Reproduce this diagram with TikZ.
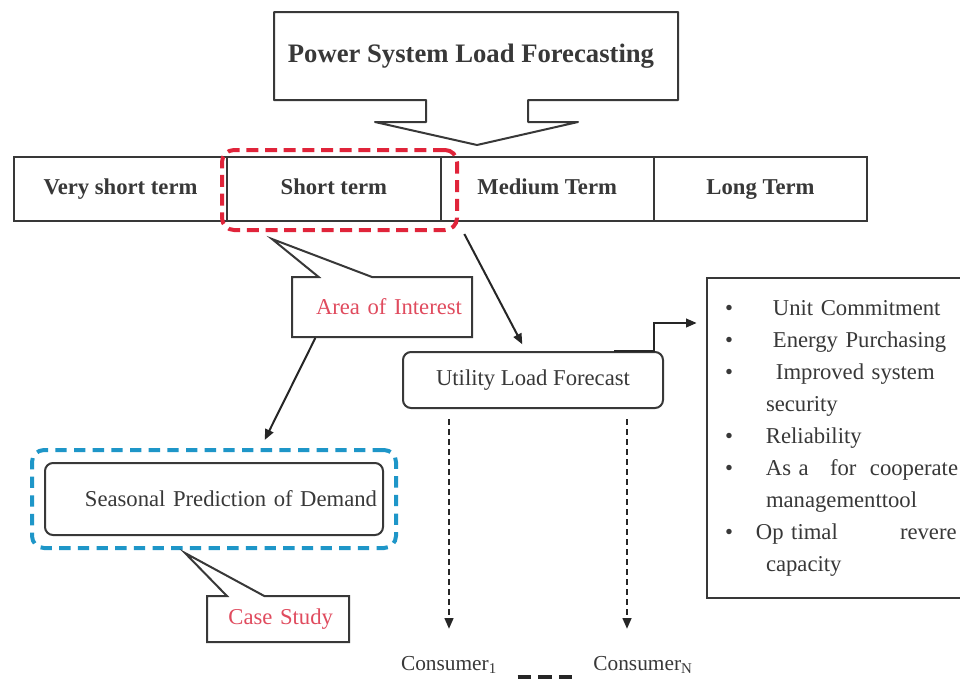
\documentclass[tikz,border=0pt]{standalone}
\usepackage{fontspec}
\setmainfont{Liberation Serif}
\usepackage{tikz}
\usetikzlibrary{positioning,arrows.meta,fit,shapes.callouts}
\definecolor{cred}{HTML}{E0243A}
\definecolor{cblue}{HTML}{1E96C8}
\definecolor{cpink}{HTML}{E04B5E}
\definecolor{cline}{HTML}{383838}
\newcommand{\itm}[2]{\makebox[#1][l]{\textbullet}#2}

\begin{document}
\begin{tikzpicture}[x=0.75pt,y=-0.75pt,
    font=\fontsize{17}{24}\selectfont,
    term/.style={draw=cline,line width=1.5pt,minimum width=160pt,minimum height=48pt,
                 text height=11.5pt,text depth=3.5pt,
                 inner sep=0pt,outer sep=0pt,font=\fontsize{17}{20}\selectfont\bfseries,text=cline},
    rbox/.style={draw=cline,line width=1.5pt,rounded corners=6pt,text=cline},
    note/.style={rectangle callout,draw=cline,line width=1.5pt,fill=white,text=cpink,align=right},
    zone/.style={line width=3pt,rounded corners=9pt,inner sep=0pt},
    ar/.style={-{Triangle[length=8pt,width=6.5pt]},draw=black!85,line width=1.5pt},
    dar/.style={ar,dash pattern=on 4.5pt off 3pt},
    gap/.style={draw=black!85,line width=3.5pt,dash pattern=on 10pt off 5.5pt}]
    \useasboundingbox (0,0) rectangle (960,686);
    \fill[white] (0,0) rectangle (960,686);
    % title with its down arrow
    \draw[cline,line width=1.5pt,line join=round] (274,12) -- (678,12) -- (678,100) -- (528,100)
      -- (528,122) -- (578,122) -- (477,145) -- (375,122) -- (426,122) -- (426,100) -- (274,100) -- cycle;
    \node[font=\fontsize{20}{24}\selectfont\bfseries,text=cline] (psl) at (471,56) {Power System Load Forecasting};
    % the four horizons
    \node[term]                   (vst) at (120.5,189) {Very short term};
    \node[term,right=0pt of vst]  (st)  {Short term};
    \node[term,right=0pt of st]   (mt)  {Medium Term};
    \node[term,right=0pt of mt]   (lt)  {Long Term};
    \node[zone,draw=cred,dash pattern=on 9pt off 5pt,fit={(222,150) (457,230)}] (roi) {};
    \node[note,minimum width=135pt,minimum height=45pt,text width=120pt,inner xsep=7.5pt,
          callout absolute pointer={(272,239)},callout pointer width=40pt] (area) at (382,307) {Area of Interest};
    % case study branch
    \node[rbox,minimum width=253.5pt,minimum height=54pt,text width=244.5pt,inner xsep=4.5pt,
          align=right] (season) at (214,499) {Seasonal Prediction of Demand};
    \node[zone,draw=cblue,dash pattern=on 8.5pt off 5.5pt,fit=(season),inner sep=9pt] (cs) {};
    \node[note,minimum width=106.5pt,minimum height=34.5pt,text width=82.5pt,inner xsep=12pt,
          callout absolute pointer={(185,553)},callout pointer width=28pt] (case) at (278,619) {Case Study};
    % utility branch
    \node[rbox,minimum width=195pt,minimum height=42pt] (util) at (533,380) {Utility Load Forecast};
    \node[draw=cline,line width=1.5pt,anchor=north west,align=left,text width=193.5pt,
          inner xsep=13.5pt,inner ysep=16.5pt,text=cline] (uses) at (706,277) {%
      \itm{36pt}{Unit Commitment}\\
      \itm{36pt}{Energy Purchasing}\\
      \itm{38.25pt}{Improved system}\\
      \hspace*{30.75pt}security\\
      \itm{30.75pt}{Reliability}\\
      \itm{30.75pt}{\makebox[48pt][l]{As a}\makebox[30pt][l]{for}cooperate}\\
      \hspace*{30.75pt}managementtool\\
      \itm{23.25pt}{\makebox[108pt][l]{Op timal}revere}\\
      \hspace*{30.75pt}capacity};
    \node[font=\fontsize{16}{20}\selectfont,text=cline] (c1) at (449,665) {Consumer\textsubscript{1}};
    \node[font=\fontsize{16}{20}\selectfont,text=cline] (cn) at (643,665) {Consumer\textsubscript{N}};
    % connectors
    \draw[ar] ([xshift=4pt,yshift=-1.5pt]roi.south east) -- ([xshift=-8pt,yshift=5pt]util.north);
    \draw[ar] ([xshift=-50pt]area.south) -- ([xshift=38pt,yshift=6pt]cs.north);
    \draw[ar] ([xshift=-37.5pt]util.north east) -- ++(40,0) |- ([xshift=-7pt]uses.west |- 0,323);
    \draw[dar] ([xshift=-63pt,yshift=-7.5pt]util.south) -- ([yshift=17pt]c1.north);
    \draw[dar] ([xshift=70.5pt,yshift=-7.5pt]util.south) -- ([xshift=70.5pt,yshift=17pt]util.south |- cn.north);
    \draw[gap] ([xshift=12pt,yshift=-5pt]c1.base east) -- ([xshift=-11pt,yshift=-5pt]cn.base west);
  \end{tikzpicture}
\end{document}
